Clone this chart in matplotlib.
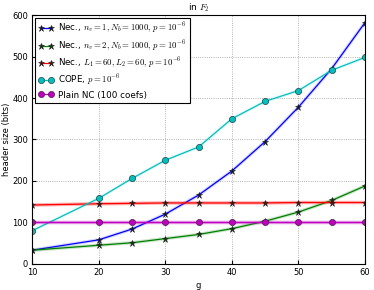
import matplotlib
matplotlib.use('Agg')
import matplotlib.pyplot as plt

g = [10, 20, 25, 30, 35, 40, 45, 50, 55, 60]
nec_ne1 = [33, 58, 84, 120, 166, 224, 295, 378, 471, 582]
nec_ne2 = [33, 45, 51, 61, 71, 85, 103, 125, 153, 188]
nec_L = [142, 145, 146, 147, 147, 147, 147, 148, 148, 148]
cope = [80, 158, 206, 250, 282, 350, 392, 418, 467, 498]
plain_nc = [100, 100, 100, 100, 100, 100, 100, 100, 100, 100]

labels = [r'Nec., $n_v=1, N_b=1000,\, p=10^{-6}$',
          r'Nec., $n_v=2, N_b=1000,\, p=10^{-6}$',
          r'Nec., $L_1=60, L_2=60,\, p=10^{-6}$',
          r'COPE, $p=10^{-6}$',
          'Plain NC (100 coefs)']

plt.rcParams['font.size'] = 6
plt.rcParams['mathtext.fontset'] = 'cm'

fig = plt.figure(figsize=(3.74, 2.90), dpi=100)
ax = fig.add_axes([0.086, 0.09, 0.89, 0.858])

series = [(nec_ne1, 'b', '*', '#101040', 4.5, 0.15),
          (nec_ne2, 'g', '*', '#103010', 4.5, 0.2),
          (nec_L, 'r', '*', '#401010', 4.5, 0.3),
          (cope, 'c', 'o', 'c', 4.5, 0.1),
          (plain_nc, 'm', 'o', 'm', 4.5, 0.4)]

for (vals, col, mk, mfc, ms, a), lab in zip(series, labels):
    ax.plot(g, vals, color=col, lw=2.5, alpha=a)
    ax.plot(g, vals, color=col, lw=0.9, marker=mk, markersize=ms,
            markerfacecolor=mfc, markeredgecolor='#202020', markeredgewidth=0.4,
            label=lab)

ax.set_xlim(10, 60)
ax.set_ylim(0, 600)
ax.set_xticks([10, 20, 30, 40, 50, 60])
ax.set_yticks([0, 100, 200, 300, 400, 500, 600])
ax.grid(True, linestyle=':', color='#999999', lw=0.6)
ax.set_xlabel('g', labelpad=3)
ax.set_ylabel('header size (bits)', labelpad=1)
ax.set_title(r'in $F_2$', fontsize=6.5, pad=3)
ax.tick_params(direction='in', length=3, pad=3)
for s in ax.spines.values():
    s.set_linewidth(0.8)
leg = ax.legend(loc='upper left', numpoints=2, fontsize=6, fancybox=False,
                framealpha=1, edgecolor='black', handlelength=1.8,
                borderaxespad=0.3, labelspacing=0.25, handletextpad=0.5,
                prop={'size': 6.3})
leg.get_frame().set_linewidth(0.8)

plt.savefig('out.png', dpi=100)
